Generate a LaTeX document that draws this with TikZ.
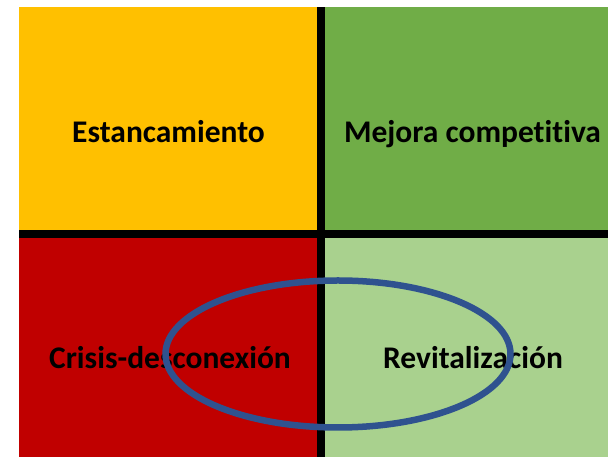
\documentclass[tikz,border=0pt]{standalone}
\usepackage{fontspec}
\setmainfont[Ligatures=CommonOff]{Carlito}
\definecolor{qyellow}{HTML}{FFC000}
\definecolor{qgreen}{HTML}{70AD47}
\definecolor{qred}{HTML}{C00000}
\definecolor{qlight}{HTML}{A9D18E}
\definecolor{ringblue}{HTML}{2F528F}
\tikzset{
  label text/.style={font=\bfseries\fontsize{31.5}{37}\selectfont, text=black, anchor=base, inner sep=0pt},
  divider/.style={line width=8pt, draw=black},
}
\begin{document}
\begin{tikzpicture}[x=1pt,y=1pt]
\useasboundingbox (0,0) rectangle (608,457);
\fill[white] (0,0) rectangle (608,457);
\fill[qyellow] (19,223) rectangle (321,449.5);
\fill[qgreen] (321,223) rectangle (608,449.5);
\fill[qred] (19,0) rectangle (321,223);
\fill[qlight] (321,0) rectangle (608,223);
\coordinate (vtop) at (321,449.5);
\coordinate (vbot) at (321,0);
\coordinate (hl) at (19,223);
\coordinate (hr) at (608,223);
\draw[divider] (vtop) -- (vbot);
\draw[divider] (hl) -- (hr);
\node[label text] (est) at (168.5,314.3) {Estancamiento};
\node[label text] (mej) at (472.5,314.3) {Mejora competitiva};
\node[label text] (cri) at (170,88.7) {Crisis-desconexión};
\node[label text] (rev) at (473,88.7) {Revitalización};
\draw[ringblue, line width=6.5pt] (338,103) ellipse [x radius=172.5, y radius=73.5];
\end{tikzpicture}
\end{document}
